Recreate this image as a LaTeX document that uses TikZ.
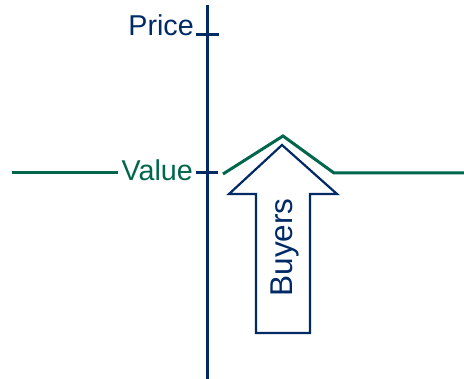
\documentclass[tikz,border=0pt]{standalone}
\usepackage{fontspec}
\setmainfont{Liberation Sans}
\definecolor{navy}{RGB}{0,42,102}
\definecolor{dgreen}{RGB}{0,102,76}
\begin{document}
\begin{tikzpicture}[x=1pt,y=-1pt,
  axis/.style={navy,line width=3pt},
  valline/.style={dgreen,line width=3pt},
  arrowshape/.style={navy,line width=2.2pt,fill=white,line join=miter},
  lbl/.style={inner sep=0pt,font=\fontsize{28.7}{32}\selectfont}]
\useasboundingbox (0,0) rectangle (464,379);
\coordinate (top) at (207,5);
\coordinate (bot) at (207,379);
\draw[axis] (top) -- (bot);
\coordinate (pt1) at (196,35);
\coordinate (pt2) at (219,35);
\draw[axis] (pt1) -- (pt2);
\coordinate (vt1) at (196,173);
\coordinate (vt2) at (218,173);
\draw[axis] (vt1) -- (vt2);
\node[lbl,navy,anchor=base east] (price) at (194,36) {Price};
\node[lbl,dgreen,anchor=base east] (value) at (193,181) {Value};
\coordinate (gl) at (12,173);
\coordinate (gr) at (118,173);
\draw[valline] (gl) -- (gr);
\coordinate (g1) at (223,174);
\coordinate (g2) at (283,136);
\coordinate (g3) at (334,173);
\coordinate (g4) at (464,173);
\draw[valline] (g1) -- (g2) -- (g3) -- (g4);
\draw[arrowshape] (282,145) -- (337,194) -- (310,194) -- (310,333) -- (256,333) -- (256,194) -- (229,194) -- cycle;
\node[lbl,navy,rotate=90,anchor=base,font=\fontsize{31.5}{34}\selectfont] (buyers) at (292,247.5) {Buyers};
\end{tikzpicture}
\end{document}
